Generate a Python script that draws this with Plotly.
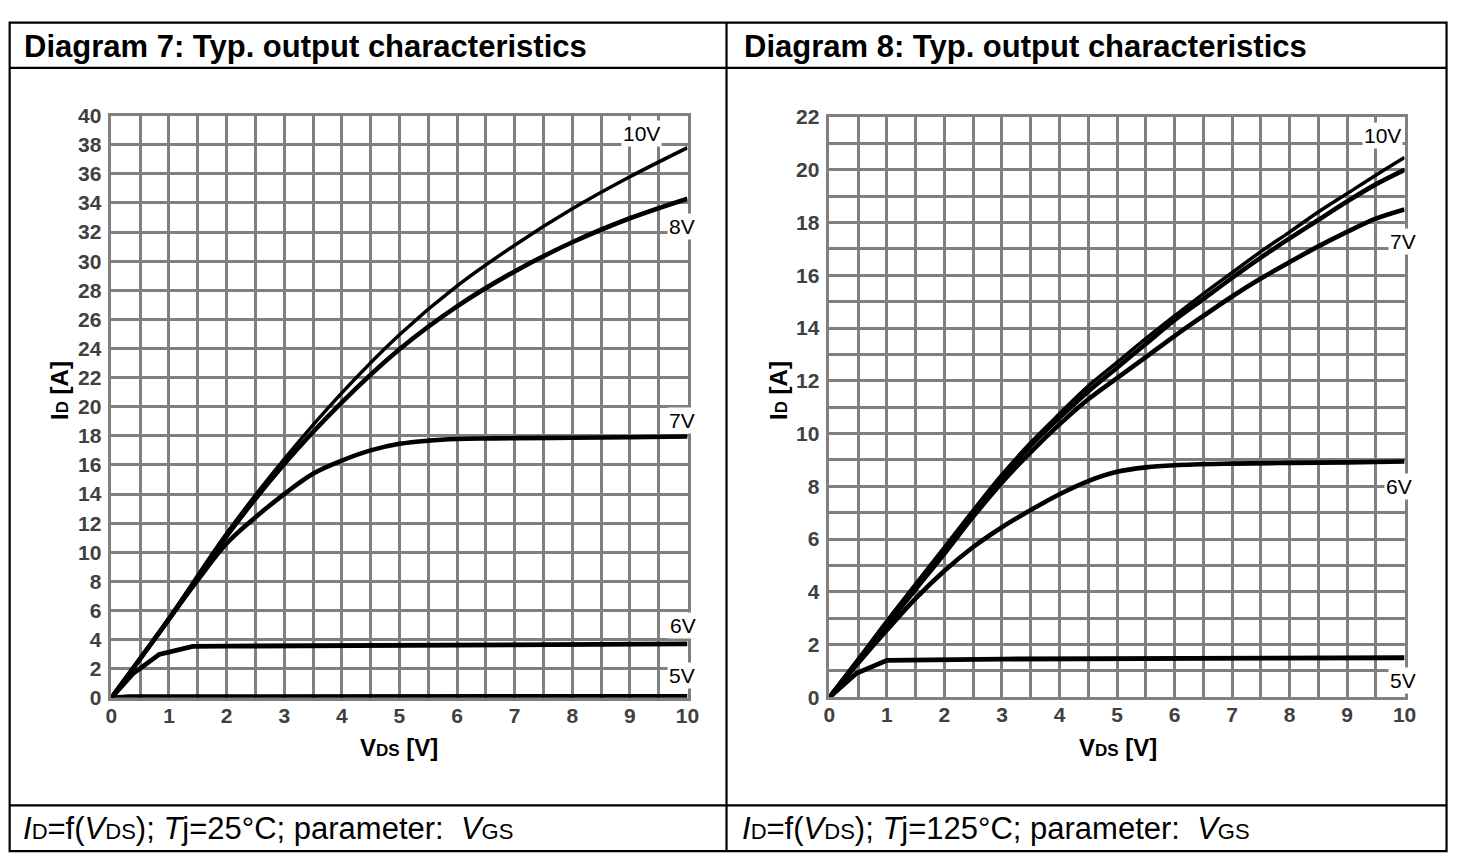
import plotly.graph_objects as go

W, H = 1462, 866

# ---------------- Data: Diagram 7 (Tj = 25 °C) ----------------
L10_X = [0, 1, 2, 3, 4, 5, 6, 7, 8, 9, 10]
L10_Y = [0, 5.5, 11.3, 16.4, 20.95, 24.95, 28.3, 31.1, 33.6, 35.8, 37.8]
L8_X = [0, 1, 2, 3, 4, 5, 6, 7, 8, 9, 10]
L8_Y = [0, 5.4, 11.1, 16.07, 20.3, 23.95, 26.9, 29.3, 31.3, 32.95, 34.3]
L7_X = [0, 0.5, 1, 1.5, 2, 2.5, 3, 3.5, 4, 4.5, 5, 5.5, 6, 6.5, 7, 8, 9, 10]
L7_Y = [0, 2.7, 5.4, 8.1, 10.6, 12.4, 14.0, 15.4, 16.3, 17.0, 17.45, 17.67, 17.78, 17.82, 17.84, 17.87, 17.9, 17.95]
L6_X = [0, 0.37, 0.83, 1.41, 2, 5, 10]
L6_Y = [0, 1.64, 2.98, 3.53, 3.55, 3.6, 3.7]
L5_X = [0, 0.3, 10]
L5_Y = [0, 0.08, 0.1]

# ---------------- Data: Diagram 8 (Tj = 125 °C) ----------------
R10_X = [0, 0.5, 1, 1.5, 2, 2.5, 3, 3.5, 4, 4.5, 5, 5.5, 6, 6.5, 7, 7.5, 8, 8.5, 9, 9.5, 10]
R10_Y = [0, 1.45, 2.9, 4.3, 5.7, 7.1, 8.45, 9.66, 10.75, 11.8, 12.7, 13.6, 14.46, 15.3, 16.1, 16.9, 17.64, 18.4, 19.1, 19.8, 20.47]
R8_X = [0, 0.5, 1, 1.5, 2, 2.5, 3, 3.5, 4, 4.5, 5, 5.5, 6, 6.5, 7, 7.5, 8, 8.5, 9, 9.5, 10]
R8_Y = [0, 1.42, 2.85, 4.25, 5.6, 7.0, 8.35, 9.55, 10.6, 11.6, 12.5, 13.4, 14.3, 15.1, 15.9, 16.67, 17.4, 18.1, 18.8, 19.45, 20.0]
R7_X = [0, 0.5, 1, 1.5, 2, 2.5, 3, 3.5, 4, 4.5, 5, 5.5, 6, 6.5, 7, 7.5, 8, 8.5, 9, 9.5, 10]
R7_Y = [0, 1.38, 2.75, 4.1, 5.45, 6.85, 8.15, 9.3, 10.35, 11.3, 12.1, 12.9, 13.7, 14.46, 15.2, 15.88, 16.5, 17.1, 17.65, 18.15, 18.5]
R6_X = [0, 0.5, 1, 1.5, 2, 2.5, 3, 3.5, 4, 4.5, 5, 5.5, 6, 7, 8, 9, 10]
R6_Y = [0, 1.3, 2.55, 3.75, 4.8, 5.7, 6.45, 7.1, 7.7, 8.2, 8.55, 8.72, 8.8, 8.86, 8.89, 8.91, 8.94]
R5_X = [0, 0.47, 1.0, 3, 10]
R5_Y = [0, 0.91, 1.40, 1.45, 1.5]

VDS_TICKS = [0, 1, 2, 3, 4, 5, 6, 7, 8, 9, 10]
L_ID_TICKS = list(range(0, 41, 2))
R_ID_TICKS = list(range(0, 23, 2))

L_LABELS = ["10V", "8V", "7V", "6V", "5V"]
L_LABEL_X = [9.2, 9.91, 9.9, 9.93, 9.91]
L_LABEL_Y = [38.76, 32.4, 19.03, 5.0, 1.5]
R_LABELS = ["10V", "8V", "7V", "6V", "5V"]
R_LABEL_X = [9.62, 10.05, 9.98, 9.91, 9.97]
R_LABEL_Y = [21.3, 19.16, 17.27, 8.01, 0.63]

FONT = "Liberation Sans, Arial, Helvetica, sans-serif"
GRID = "#808080"
TICKC = "#404040"

fig = go.Figure()

def add_line(x, y, w, shape, xa, ya):
    fig.add_trace(go.Scatter(x=x, y=y, mode="lines", xaxis=xa, yaxis=ya,
                             line=dict(color="black", width=w, shape=shape),
                             hoverinfo="skip", showlegend=False))

add_line(L10_X, L10_Y, 3.5, "spline", "x", "y")
add_line(L8_X, L8_Y, 4.6, "spline", "x", "y")
add_line(L7_X, L7_Y, 4.6, "spline", "x", "y")
add_line(L6_X, L6_Y, 4.8, "linear", "x", "y")
add_line(L5_X, L5_Y, 4.6, "linear", "x", "y")

add_line(R10_X, R10_Y, 3.5, "spline", "x2", "y2")
add_line(R8_X, R8_Y, 4.6, "spline", "x2", "y2")
add_line(R7_X, R7_Y, 4.6, "spline", "x2", "y2")
add_line(R6_X, R6_Y, 4.6, "spline", "x2", "y2")
add_line(R5_X, R5_Y, 4.8, "linear", "x2", "y2")

def px_x(p):
    return p / W

def px_y(p):
    return 1 - p / H

tickfont = dict(family=FONT, size=21, color=TICKC, weight=700)

xcommon = dict(range=[0, 10], tickmode="array", tickvals=VDS_TICKS,
               ticktext=[str(v) for v in VDS_TICKS], showgrid=True,
               gridcolor=GRID, gridwidth=2.6, zeroline=False, showline=True,
               linecolor=GRID, linewidth=2.6, mirror=True, ticks="",
               tickfont=tickfont, ticklabelstandoff=-3,
               minor=dict(dtick=0.5, showgrid=True, gridcolor=GRID, gridwidth=2.6),
               fixedrange=True)

fig.update_layout(
    width=W, height=H, autosize=False,
    margin=dict(l=0, r=0, t=0, b=0),
    paper_bgcolor="white", plot_bgcolor="white",
    xaxis=dict(domain=[px_x(106.7), px_x(690)], anchor="y", **xcommon),
    yaxis=dict(domain=[px_y(704.5), px_y(106.5)], anchor="x", range=[0, 40],
               tickmode="array", tickvals=L_ID_TICKS,
               ticktext=[str(v) for v in L_ID_TICKS], showgrid=True,
               gridcolor=GRID, gridwidth=2.6, zeroline=False, showline=True,
               linecolor=GRID, linewidth=2.6, mirror=True, ticks="",
               tickfont=tickfont, ticklabelstandoff=3, fixedrange=True),
    xaxis2=dict(domain=[px_x(833.7), px_x(1416)], anchor="y2", **xcommon),
    yaxis2=dict(domain=[px_y(704), px_y(108)], anchor="x2", range=[0, 22],
                tickmode="array", tickvals=R_ID_TICKS,
                ticktext=[str(v) for v in R_ID_TICKS], showgrid=True,
                gridcolor=GRID, gridwidth=2.6, zeroline=False, showline=True,
                linecolor=GRID, linewidth=2.6, mirror=True, ticks="",
                tickfont=tickfont, ticklabelstandoff=3,
                minor=dict(dtick=1, showgrid=True, gridcolor=GRID, gridwidth=2.6),
                fixedrange=True),
)

ann = []
for t, x, y in zip(L_LABELS, L_LABEL_X, L_LABEL_Y):
    ann.append(dict(text=t, x=x, y=y, xref="x", yref="y", showarrow=False,
                    font=dict(family=FONT, size=21, color="black"),
                    bgcolor="white", borderpad=1, xanchor="center", yanchor="middle"))
for t, x, y in zip(R_LABELS, R_LABEL_X, R_LABEL_Y):
    ann.append(dict(text=t, x=x, y=y, xref="x2", yref="y2", showarrow=False,
                    font=dict(family=FONT, size=21, color="black"),
                    bgcolor="white", borderpad=1, xanchor="center", yanchor="middle"))

titlefont = dict(family=FONT, size=24, color="black", weight=700)
sub = "<span style='font-size:17px'>%s</span>"
# axis titles
ann.append(dict(text="I" + sub % "D" + " [A]", x=px_x(54), y=px_y(389), xref="paper", yref="paper",
                textangle=-90, showarrow=False, font=titlefont, xanchor="center", yanchor="middle"))
ann.append(dict(text="I" + sub % "D" + " [A]", x=px_x(782), y=px_y(389), xref="paper", yref="paper",
                textangle=-90, showarrow=False, font=titlefont, xanchor="center", yanchor="middle"))
ann.append(dict(text="V" + sub % "DS" + " [V]", x=px_x(398), y=px_y(756), xref="paper", yref="paper",
                showarrow=False, font=titlefont, xanchor="center", yanchor="middle"))
ann.append(dict(text="V" + sub % "DS" + " [V]", x=px_x(1126), y=px_y(756), xref="paper", yref="paper",
                showarrow=False, font=titlefont, xanchor="center", yanchor="middle"))

# header texts
HEADERS = ["Diagram 7: Typ. output characteristics", "Diagram 8: Typ. output characteristics"]
HEADER_X = [16, 745]
for t, x in zip(HEADERS, HEADER_X):
    ann.append(dict(text=t, x=px_x(x), y=px_y(35), xref="paper", yref="paper", showarrow=False,
                    font=dict(family=FONT, size=31, color="black", weight=700),
                    xanchor="left", yanchor="middle"))

# footer texts
fsub = "<span style='font-size:22px'>%s</span>"
TJ = ["25", "125"]
FOOT_X = [15, 743]
for tj, x in zip(TJ, FOOT_X):
    txt = ("<i>I</i>" + fsub % "D" + "=f(<i>V</i>" + fsub % "DS" + "); <i>T</i>j=" + tj +
           "°C; parameter:&nbsp; <i>V</i>" + fsub % "GS")
    ann.append(dict(text=txt, x=px_x(x), y=px_y(839), xref="paper", yref="paper", showarrow=False,
                    font=dict(family=FONT, size=31, color="black"),
                    xanchor="left", yanchor="middle"))

fig.update_layout(annotations=ann)

# table borders
bl = dict(color="black", width=2.2)
shapes = [
    dict(type="rect", xref="paper", yref="paper", x0=px_x(3.7), x1=px_x(1458.5),
         y0=px_y(862), y1=px_y(11), line=bl),
    dict(type="line", xref="paper", yref="paper", x0=px_x(3.7), x1=px_x(1458.5),
         y0=px_y(57.5), y1=px_y(57.5), line=bl),
    dict(type="line", xref="paper", yref="paper", x0=px_x(3.7), x1=px_x(1458.5),
         y0=px_y(815), y1=px_y(815), line=bl),
    dict(type="line", xref="paper", yref="paper", x0=px_x(729.5), x1=px_x(729.5),
         y0=px_y(862), y1=px_y(11), line=bl),
]
fig.update_layout(shapes=shapes)

fig.write_html("out.html",
               config={"displayModeBar": False},
               post_script="document.body.style.margin='0';document.body.style.overflow='hidden';")
